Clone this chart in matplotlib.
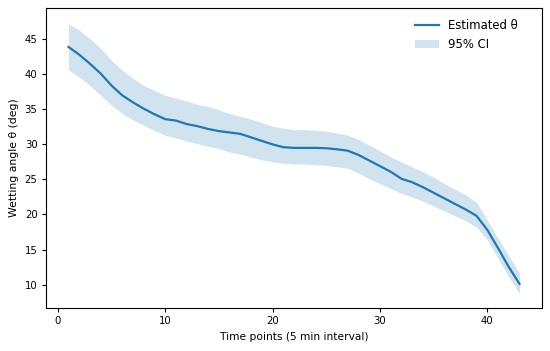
import numpy as np
import matplotlib
matplotlib.use("Agg")
import matplotlib.pyplot as plt

# Time points (5 min interval)
temps = np.arange(1, 44)

# Estimated wetting angle (deg)
theta = [43.9, 42.8, 41.5, 40.1, 38.4, 37.0, 36.0, 35.1, 34.3, 33.6,
         33.4, 32.9, 32.6, 32.2, 31.9, 31.7, 31.5, 31.0, 30.5, 30.0,
         29.6, 29.5, 29.5, 29.5, 29.45, 29.3, 29.1, 28.5, 27.7, 26.9,
         26.1, 25.1, 24.6, 23.9, 23.1, 22.3, 21.5, 20.7, 19.8, 17.8,
         15.2, 12.5, 10.1]

# 95% CI bounds
ci_haut = [47.2, 46.3, 45.1, 43.7, 42.0, 40.6, 39.4, 38.4, 37.7, 37.0,
           36.6, 36.2, 35.7, 35.4, 34.9, 34.4, 34.0, 33.6, 33.1, 32.6,
           32.3, 32.1, 32.1, 32.0, 31.9, 31.6, 31.3, 30.7, 29.9, 29.1,
           28.2, 27.5, 26.8, 26.1, 25.3, 24.4, 23.6, 22.8, 21.7, 19.2,
           16.6, 14.1, 11.6]
ci_bas = [40.6, 39.6, 38.4, 37.0, 35.6, 34.4, 33.5, 32.7, 32.0, 31.3,
          30.9, 30.5, 30.1, 29.7, 29.4, 28.9, 28.6, 28.2, 27.8, 27.5,
          27.3, 27.2, 27.2, 27.1, 27.0, 26.8, 26.6, 25.9, 25.1, 24.4,
          23.7, 23.0, 22.5, 21.9, 21.2, 20.5, 19.8, 19.1, 18.2, 16.4,
          13.7, 11.1, 8.7]

plt.rcParams['font.size'] = 7.3
plt.rcParams['xtick.major.size'] = 2.6
plt.rcParams['ytick.major.size'] = 2.6
plt.rcParams['axes.linewidth'] = 0.8

fig = plt.figure(figsize=(5.5, 3.51), dpi=100)
ax = fig.add_axes([0.0836, 0.1234, 0.902, 0.8526])

ax.plot(temps, theta, color='#1f77b4', lw=1.6, label='Estimated θ')
ax.fill_between(temps, ci_bas, ci_haut, color='#1f77b4', alpha=0.2,
                linewidth=0, label='95% CI')

ax.set_xlim(-1.1, 45.1)
ax.set_ylim(6.7, 49.4)
ax.set_xticks([0, 10, 20, 30, 40])
ax.set_yticks([10, 15, 20, 25, 30, 35, 40, 45])
ax.set_xlabel('Time points (5 min interval)', fontsize=7.7)
ax.set_ylabel('Wetting angle θ (deg)', fontsize=7.8)
ax.legend(loc='upper right', frameon=False, fontsize=8.4,
          bbox_to_anchor=(0.972, 1.0))

fig.savefig('out.png', dpi=100)
